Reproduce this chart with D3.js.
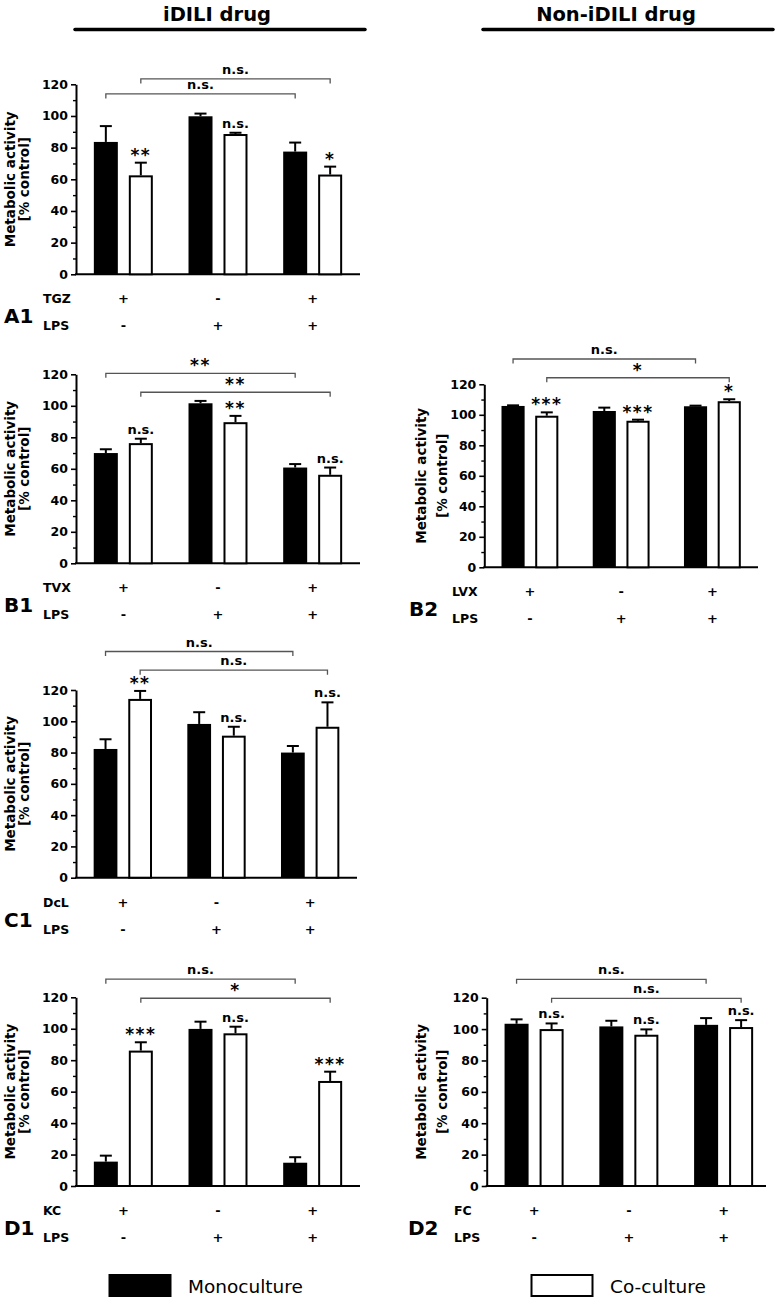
<!DOCTYPE html>
<html><head><meta charset="utf-8">
<script src="https://cdn.jsdelivr.net/npm/d3@7"></script>
<style>
html,body{margin:0;padding:0;background:#fff;}
text{font-family:"DejaVu Sans",sans-serif;}
</style></head>
<body><svg id="c" width="777" height="1302"></svg>
<script>
// ---------- data ----------
const groups = ["g1", "g2", "g3"];
const series = ["Monoculture", "Co-culture"];
const lpsRow = ["-", "+", "+"];
const drugRow = ["+", "-", "+"];
const yTicks = [0, 20, 40, 60, 80, 100, 120];
const yMinorTicks = [10, 30, 50, 70, 90, 110];

const a1Mono = [83.6, 99.8, 77.5], a1MonoErr = [10, 1.7, 5.7];
const a1Co = [62.5, 88.6, 63.0], a1CoErr = [8, 0.8, 5];
const a1Sig = ["**", "n.s.", "*"], a1Brackets = ["n.s.", "n.s."];

const b1Mono = [70.0, 101.6, 60.8], b1MonoErr = [2.4, 1.5, 2.2];
const b1Co = [76.3, 89.6, 56.2], b1CoErr = [2.8, 4.0, 4.6];
const b1Sig = ["n.s.", "**", "n.s."], b1Brackets = ["**", "**"];

const b2Mono = [105.8, 102.5, 105.6], b2MonoErr = [0.4, 2.2, 0.4];
const b2Co = [99.4, 96.1, 108.9], b2CoErr = [2.2, 0.7, 1.3];
const b2Sig = ["***", "***", "*"], b2Brackets = ["n.s.", "*"];

const c1Mono = [82.3, 98.3, 80.0], c1MonoErr = [6.2, 7.5, 4.2];
const c1Co = [114.3, 90.8, 96.5], c1CoErr = [5.1, 5.7, 15.6];
const c1Sig = ["**", "n.s.", "n.s."], c1Brackets = ["n.s.", "n.s."];

const d1Mono = [15.5, 99.9, 14.8], d1MonoErr = [3.8, 4.6, 3.5];
const d1Co = [86.1, 97.1, 66.8], d1CoErr = [5.3, 4.2, 5.9];
const d1Sig = ["***", "n.s.", "***"], d1Brackets = ["n.s.", "*"];

const d2Mono = [103.4, 101.7, 102.7], d2MonoErr = [2.8, 3.6, 4.3];
const d2Co = [100.0, 96.4, 101.3], d2CoErr = [3.6, 3.4, 4.4];
const d2Sig = ["n.s.", "n.s.", "n.s."], d2Brackets = ["n.s.", "n.s."];

const headers = ["iDILI drug", "Non-iDILI drug"];
const yLabel = ["Metabolic activity", "[% control]"];

// ---------- layout ----------
const panels = [
  {name:"A1", drug:"TGZ", mono:a1Mono, monoErr:a1MonoErr, co:a1Co, coErr:a1CoErr, sig:a1Sig, br:a1Brackets,
   left:76, right:360, yZero:274.3, yTop:84.3, ylab:[9.5,23.5], labX:4, rowX:43, brLevel:[113.9,123.4]},
  {name:"B1", drug:"TVX", mono:b1Mono, monoErr:b1MonoErr, co:b1Co, coErr:b1CoErr, sig:b1Sig, br:b1Brackets,
   left:76, right:360, yZero:563.3, yTop:374.3, ylab:[9.5,23.5], labX:4, rowX:43, brLevel:[120.6,108.6]},
  {name:"B2", drug:"LVX", mono:b2Mono, monoErr:b2MonoErr, co:b2Co, coErr:b2CoErr, sig:b2Sig, br:b2Brackets,
   left:484.3, right:758, yZero:567.3, yTop:384.3, ylab:[421,442], labX:409, rowX:452, brLevel:[136.6,124.3]},
  {name:"C1", drug:"DcL", mono:c1Mono, monoErr:c1MonoErr, co:c1Co, coErr:c1CoErr, sig:c1Sig, br:c1Brackets,
   left:76, right:357, yZero:877.7, yTop:690, ylab:[9.5,23.5], labX:4, rowX:43, brLevel:[144.6,132.7]},
  {name:"D1", drug:"KC", mono:d1Mono, monoErr:d1MonoErr, co:d1Co, coErr:d1CoErr, sig:d1Sig, br:d1Brackets,
   left:76, right:360, yZero:1186, yTop:997.3, ylab:[9.5,23.5], labX:4, rowX:43, brLevel:[131.5,119.4]},
  {name:"D2", drug:"FC", mono:d2Mono, monoErr:d2MonoErr, co:d2Co, coErr:d2CoErr, sig:d2Sig, br:d2Brackets,
   left:486.7, right:766, bandRight:771, yZero:1186, yTop:997.7, ylab:[421,442], labX:408, rowX:454, brLevel:[131.7,119.6]}
];

const svg = d3.select("#c");
svg.append("rect").attr("width",777).attr("height",1302).attr("fill","#fff");

// headers
const hdrX = [[75,365],[483,773]];
headers.forEach((h,i)=>{
  const [a,b] = hdrX[i];
  svg.append("text").attr("x",(a+b)/2 + (i===0?-3:-12)).attr("y",21).attr("text-anchor","middle")
    .attr("font-size",19.5).attr("font-weight","bold").text(h);
  svg.append("line").attr("x1",a).attr("x2",b).attr("y1",29.5).attr("y2",29.5)
    .attr("stroke","#000").attr("stroke-width",3.5).attr("stroke-linecap","round");
});

const astFS = 17;
function sigText(g, x, yBottom, s){
  if (s.startsWith("*")) {
    g.append("text").attr("x",x).attr("y",yBottom + 1).attr("text-anchor","middle")
      .attr("font-size",astFS).attr("font-weight","bold").attr("letter-spacing",1.5).text(s);
  } else {
    g.append("text").attr("x",x).attr("y",yBottom).attr("text-anchor","middle")
      .attr("font-size",13).attr("font-weight","bold").text(s);
  }
}

panels.forEach(p=>{
  const g = svg.append("g");
  const y = d3.scaleLinear().domain([0,120]).range([p.yZero, p.yTop]);
  const x0 = d3.scaleBand().domain(groups).range([p.left, p.bandRight || p.right])
    .paddingInner(0.377).paddingOuter(0.1885);
  const x1 = d3.scaleBand().domain(series).range([0, x0.bandwidth()]).paddingInner(0.314);

  // y axis
  const ax = g.append("g").attr("transform",`translate(${p.left},0)`)
    .call(d3.axisLeft(y).tickValues(yTicks).tickSize(5).tickSizeOuter(0).tickPadding(3));
  ax.select(".domain").attr("stroke-width",2);
  ax.selectAll(".tick line").attr("stroke-width",1.6);
  ax.selectAll(".tick text").attr("font-size",12.5).attr("font-weight","bold")
    .attr("font-family","DejaVu Sans").attr("fill","#000");
  const axm = g.append("g").attr("transform",`translate(${p.left},0)`)
    .call(d3.axisLeft(y).tickValues(yMinorTicks).tickSize(3).tickSizeOuter(0).tickFormat(""));
  axm.select(".domain").remove();
  axm.selectAll(".tick line").attr("stroke-width",1.4);
  // x axis line
  g.append("line").attr("x1",p.left-1).attr("x2",p.right).attr("y1",p.yZero).attr("y2",p.yZero)
    .attr("stroke","#000").attr("stroke-width",2);

  // y label
  const ym = (p.yZero + p.yTop)/2;
  yLabel.forEach((t,i)=>{
    g.append("text").attr("transform",`translate(${p.ylab[i]},${ym}) rotate(-90)`)
      .attr("text-anchor","middle").attr("dominant-baseline","central")
      .attr("font-size",13.5).attr("font-weight","bold").text(t);
  });

  const rows = groups.map((gr,i)=>({g:gr, mono:p.mono[i], monoErr:p.monoErr[i], co:p.co[i], coErr:p.coErr[i], sig:p.sig[i]}));
  const bw = x1.bandwidth();
  // bars
  rows.forEach(r=>{
    const xm = x0(r.g) + x1("Monoculture");
    const xc = x0(r.g) + x1("Co-culture");
    g.append("rect").attr("x",xm).attr("y",y(r.mono)).attr("width",bw).attr("height",p.yZero - y(r.mono)).attr("fill","#000");
    g.append("rect").attr("x",xc+1).attr("y",y(r.co)+1).attr("width",bw-2).attr("height",p.yZero - y(r.co)-1)
      .attr("fill","#fff").attr("stroke","#000").attr("stroke-width",2);
    [[xm + bw/2, r.mono, r.monoErr],[xc + bw/2, r.co, r.coErr]].forEach(([cx,v,e])=>{
      g.append("line").attr("x1",cx).attr("x2",cx).attr("y1",y(v)).attr("y2",y(v+e)).attr("stroke","#000").attr("stroke-width",2);
      g.append("line").attr("x1",cx-6).attr("x2",cx+6).attr("y1",y(v+e)).attr("y2",y(v+e)).attr("stroke","#000").attr("stroke-width",2);
    });
    const top = y(r.co + r.coErr);
    sigText(g, xc + bw/2, r.sig.startsWith("*") ? top - 3 : top - 5, r.sig);
  });

  // brackets
  series.forEach((s,i)=>{
    const xa = x0("g1") + x1(s) + bw/2, xb = x0("g3") + x1(s) + bw/2;
    const yl = y(p.brLevel[i]);
    g.append("path").attr("d",`M${xa},${yl+4.5}V${yl}H${xb}V${yl+4.5}`)
      .attr("fill","none").attr("stroke","#555").attr("stroke-width",1.3);
    sigText(g, (xa+xb)/2, p.br[i].startsWith("*") ? yl - 3 : yl - 5, p.br[i]);
  });

  // condition rows
  g.append("text").attr("x",p.rowX).attr("y",p.yZero+29).attr("font-size",12.5).attr("font-weight","bold").text(p.drug);
  g.append("text").attr("x",p.rowX).attr("y",p.yZero+56).attr("font-size",12.5).attr("font-weight","bold").text("LPS");
  groups.forEach((gr,i)=>{
    const cx = x0(gr) + x0.bandwidth()/2;
    g.append("text").attr("x",cx).attr("y",p.yZero+29).attr("text-anchor","middle").attr("font-size",13).attr("font-weight","bold").text(drugRow[i]);
    g.append("text").attr("x",cx).attr("y",p.yZero+56).attr("text-anchor","middle").attr("font-size",13).attr("font-weight","bold").text(lpsRow[i]);
  });
  g.append("text").attr("x",p.labX).attr("y",p.yZero+49).attr("font-size",20).attr("font-weight","bold").text(p.name);
});

// legend
const leg = [{label:series[0], x:109.5, tx:188, fill:"#000"},{label:series[1], x:531.5, tx:610, fill:"#fff"}];
leg.forEach(l=>{
  svg.append("rect").attr("x",l.x).attr("y",1275).attr("width",61).attr("height",21)
    .attr("fill",l.fill).attr("stroke","#000").attr("stroke-width",2);
  svg.append("text").attr("x",l.tx).attr("y",1293).attr("font-size",18.5).text(l.label);
});
</script></body></html>
